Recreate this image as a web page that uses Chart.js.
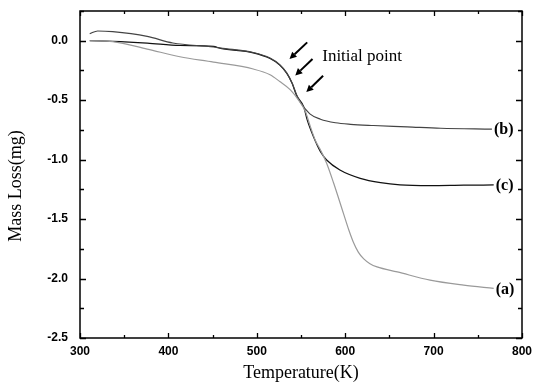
<!DOCTYPE html>
<html>
<head>
<meta charset="utf-8">
<script src="https://cdn.jsdelivr.net/npm/chart.js@4.4.0/dist/chart.umd.min.js"></script>
<style>
  html, body { margin: 0; padding: 0; background: #fff; }
  #wrap { width: 533px; height: 388px; }
</style>
</head>
<body>
<div id="wrap"><canvas id="tga"></canvas></div>
<script>
// curve (a) - grey
const tempA = [311, 337, 376, 413, 451, 496, 515, 526, 538, 547, 555, 560, 566, 572, 579, 587, 598, 604, 609, 615, 621, 628, 636, 659, 696, 734, 768];
const massA = [0.0, -0.008, -0.07, -0.135, -0.18, -0.238, -0.286, -0.343, -0.413, -0.497, -0.596, -0.708, -0.834, -0.918, -1.03, -1.199, -1.452, -1.59, -1.69, -1.78, -1.835, -1.875, -1.902, -1.944, -2.014, -2.056, -2.083];

// curve (b)
const tempB = [311, 320, 337, 376, 405, 451, 459, 496, 515, 526, 534, 540, 545, 549, 560, 572, 589, 606, 632, 670, 708, 766];
const massB = [0.06, 0.082, 0.076, 0.036, -0.019, -0.053, -0.062, -0.099, -0.146, -0.202, -0.272, -0.356, -0.455, -0.514, -0.615, -0.66, -0.69, -0.703, -0.713, -0.724, -0.736, -0.744];

// curve (c)
const tempC = [311, 337, 376, 413, 451, 459, 496, 515, 526, 534, 540, 545, 553, 557, 564, 572, 579, 594, 617, 640, 662, 696, 734, 768];
const massC = [0.0, -0.005, -0.02, -0.04, -0.048, -0.065, -0.102, -0.15, -0.205, -0.275, -0.36, -0.46, -0.554, -0.666, -0.806, -0.933, -1.003, -1.087, -1.157, -1.194, -1.213, -1.219, -1.215, -1.213];

const curveNames = ['(a)', '(b)', '(c)'];

// "Initial point" arrows, in data units (tail -> head)
const arrowTailT = [557, 563, 575];
const arrowTailM = [-0.014, -0.154, -0.295];
const arrowHeadT = [537, 543.5, 556];
const arrowHeadM = [-0.154, -0.292, -0.432];
const noteText = 'Initial point';
const noteT = 574;
const noteM = -0.135;

const toPts = (xs, ys) => xs.map((x, i) => ({ x: x, y: ys[i] }));

const frameAndTicks = {
  id: 'frameAndTicks',
  afterDraw(chart) {
    const ctx = chart.ctx;
    const a = chart.chartArea;
    const xs = chart.scales.x, ys = chart.scales.y;
    ctx.save();
    ctx.strokeStyle = '#000';
    ctx.lineWidth = 1.5;
    ctx.strokeRect(a.left, a.top, a.right - a.left, a.bottom - a.top);

    ctx.lineWidth = 1.3;
    ctx.beginPath();
    xs.ticks.forEach(t => {
      const px = Math.round(xs.getPixelForValue(t.value)) + 0.5;
      const len = t.value % 100 === 0 ? 5 : 3;
      ctx.moveTo(px, a.bottom); ctx.lineTo(px, a.bottom - len);
      ctx.moveTo(px, a.top); ctx.lineTo(px, a.top + len);
    });
    ys.ticks.forEach(t => {
      const py = Math.round(ys.getPixelForValue(t.value)) + 0.5;
      const major = Math.abs(t.value * 2 - Math.round(t.value * 2)) < 1e-6;
      const len = major ? 6 : 4;
      ctx.moveTo(a.left, py); ctx.lineTo(a.left + len, py);
      ctx.moveTo(a.right, py); ctx.lineTo(a.right - len, py);
    });
    ctx.stroke();

    // arrows
    ctx.fillStyle = '#000';
    ctx.lineWidth = 2;
    arrowTailT.forEach((t, i) => {
      const x1 = xs.getPixelForValue(t), y1 = ys.getPixelForValue(arrowTailM[i]);
      const x2 = xs.getPixelForValue(arrowHeadT[i]), y2 = ys.getPixelForValue(arrowHeadM[i]);
      const ang = Math.atan2(y2 - y1, x2 - x1);
      const hl = 7, hw = 3.5;
      const bx = x2 - hl * Math.cos(ang), by = y2 - hl * Math.sin(ang);
      ctx.beginPath();
      ctx.moveTo(x1, y1); ctx.lineTo(bx, by);
      ctx.stroke();
      ctx.beginPath();
      ctx.moveTo(x2, y2);
      ctx.lineTo(bx + hw * Math.sin(ang), by - hw * Math.cos(ang));
      ctx.lineTo(bx - hw * Math.sin(ang), by + hw * Math.cos(ang));
      ctx.closePath();
      ctx.fill();
    });

    ctx.font = '17px "Liberation Serif", "Times New Roman", serif';
    ctx.textAlign = 'left';
    ctx.textBaseline = 'middle';
    ctx.fillText(noteText, xs.getPixelForValue(noteT), ys.getPixelForValue(noteM));

    // curve labels at the end of each line
    ctx.font = 'bold 16px "Liberation Serif", "Times New Roman", serif';
    chart.data.datasets.forEach((ds, i) => {
      const last = ds.data[ds.data.length - 1];
      ctx.fillText(curveNames[i], xs.getPixelForValue(last.x) + 2, ys.getPixelForValue(last.y) + 1);
    });

    // axis titles
    ctx.font = '18px "Liberation Serif", "Times New Roman", serif';
    ctx.textAlign = 'center';
    ctx.fillText('Temperature(K)', (a.left + a.right) / 2, 373);
    ctx.translate(16, 186);
    ctx.rotate(-Math.PI / 2);
    ctx.fillText('Mass Loss(mg)', 0, 0);
    ctx.restore();
  }
};

const lineStyle = (color) => ({
  borderColor: color,
  borderWidth: 1.2,
  pointRadius: 0,
  fill: false,
  cubicInterpolationMode: 'monotone'
});

const tickFont = { family: '"Liberation Sans", Arial, sans-serif', size: 12, weight: 'bold' };

new Chart(document.getElementById('tga'), {
  type: 'line',
  data: {
    datasets: [
      { label: curveNames[0], data: toPts(tempA, massA), ...lineStyle('#9a9a9a') },
      { label: curveNames[1], data: toPts(tempB, massB), ...lineStyle('#444444') },
      { label: curveNames[2], data: toPts(tempC, massC), ...lineStyle('#111111') }
    ]
  },
  options: {
    responsive: true,
    maintainAspectRatio: false,
    animation: false,
    layout: { padding: { top: 11, right: 11, left: 0, bottom: 0 } },
    plugins: { legend: { display: false }, tooltip: { enabled: false } },
    scales: {
      x: {
        type: 'linear',
        min: 300, max: 800,
        grid: { display: false, drawTicks: false },
        border: { display: false },
        afterFit: (s) => { s.height = 50; s.paddingLeft = 0; s.paddingRight = 0; },
        ticks: {
          stepSize: 50,
          autoSkip: false,
          maxRotation: 0,
          padding: 6,
          color: '#000',
          font: tickFont,
          callback: (v) => (v % 100 === 0 ? String(v) : '')
        }
      },
      y: {
        min: -2.5, max: 0.25,
        grid: { display: false, drawTicks: false },
        border: { display: false },
        afterFit: (s) => { s.width = 80; s.paddingTop = 0; s.paddingBottom = 0; },
        ticks: {
          stepSize: 0.25,
          autoSkip: false,
          padding: 12,
          color: '#000',
          font: tickFont,
          callback: (v) => (Math.abs(v * 2 - Math.round(v * 2)) < 1e-6 ? Number(v).toFixed(1) : '')
        }
      }
    }
  },
  plugins: [frameAndTicks]
});
</script>
</body>
</html>
